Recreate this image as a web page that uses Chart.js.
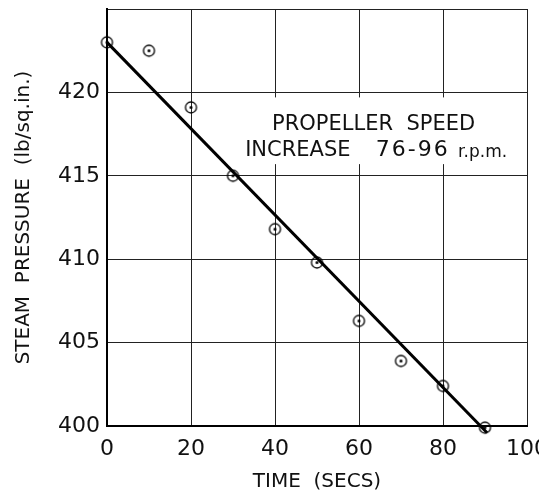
<!DOCTYPE html>
<html>
<head>
<meta charset="utf-8">
<script src="https://cdn.jsdelivr.net/npm/chart.js@4/dist/chart.umd.min.js"></script>
<style>
html,body{margin:0;padding:0;background:#fff;overflow:hidden;width:539px;height:499px;}
canvas{display:block;}
</style>
</head>
<body>
<canvas id="c" width="560" height="499"></canvas>
<script>
// Observed readings
const times = [0, 10, 20, 30, 40, 50, 60, 70, 80, 90];
const pressures = [423.0, 422.5, 419.1, 415.0, 411.8, 409.8, 406.3, 403.9, 402.4, 399.9];
// Fitted straight line
const fitTimes = [0, 90.5];
const fitPressures = [423.0, 399.6];
// Axes
const xTicks = [0, 20, 40, 60, 80, 100];
const yTicks = [400, 405, 410, 415, 420];
const annotationLine1 = 'PROPELLER  SPEED';
const annotationWord = 'INCREASE';
const annotationRange = '76-96';
const annotationUnit = 'r.p.m.';

const FONT = 'DejaVu Sans';

// circle-with-dot marker
const mk = document.createElement('canvas');
mk.width = 15; mk.height = 15;
(function(){
  const g = mk.getContext('2d');
  g.strokeStyle = '#000'; g.lineWidth = 1.3;
  g.beginPath(); g.arc(7.5, 7.5, 5.5, 0, Math.PI*2); g.stroke();
  g.fillStyle = '#000';
  g.beginPath(); g.arc(7.5, 7.5, 1.5, 0, Math.PI*2); g.fill();
})();

const annotationPlugin = {
  id: 'annot',
  beforeDatasetsDraw(chart) {
    const {ctx, scales:{x, y}} = chart;
    ctx.save();
    // white box hiding the grid behind the note
    const bx1 = x.getPixelForValue(31.7), bx2 = x.getPixelForValue(96);
    const by1 = y.getPixelForValue(419.7), by2 = y.getPixelForValue(415.7);
    ctx.fillStyle = '#fff';
    ctx.fillRect(bx1, by1, bx2 - bx1, by2 - by1);
    ctx.fillStyle = '#111';
    ctx.textBaseline = 'middle';
    ctx.textAlign = 'left';
    ctx.font = '21px "' + FONT + '"';
    ctx.fillText(annotationLine1, x.getPixelForValue(39.3), y.getPixelForValue(418.1));
    const l2y = y.getPixelForValue(416.5);
    ctx.fillText(annotationWord, x.getPixelForValue(32.9), l2y);
    ctx.font = '22px "' + FONT + '"';
    try { ctx.letterSpacing = '2px'; } catch (e) {}
    ctx.fillText(annotationRange, x.getPixelForValue(64.0), l2y);
    try { ctx.letterSpacing = '0px'; } catch (e) {}
    ctx.font = '17px "' + FONT + '"';
    ctx.fillText(annotationUnit, x.getPixelForValue(83.6), l2y + 2);
    ctx.restore();
  }
};

new Chart(document.getElementById('c'), {
  type: 'scatter',
  data: {
    datasets: [
      {
        type: 'line',
        data: fitTimes.map((t, i) => ({x: t, y: fitPressures[i]})),
        borderColor: '#000',
        borderWidth: 3,
        pointRadius: 0,
        fill: false,
        clip: false,
        order: 2
      },
      {
        data: times.map((t, i) => ({x: t, y: pressures[i]})),
        pointStyle: mk,
        pointRadius: 6,
        clip: false,
        order: 1
      }
    ]
  },
  options: {
    responsive: false,
    animation: false,
    events: [],
    layout: {padding: {left: 0, top: 9, right: 33, bottom: 0}},
    plugins: {legend: {display: false}, tooltip: {enabled: false}},
    scales: {
      x: {
        type: 'linear',
        min: 0, max: 100,
        afterBuildTicks(s) { s.ticks = xTicks.map(v => ({value: v})); },
        afterFit(s) { s.height = 73; s.paddingLeft = 0; s.paddingRight = 0; },
        ticks: {
          color: '#111', padding: 10, maxRotation: 0, autoSkip: false,
          font: {family: FONT, size: 22}
        },
        grid: {color: '#222', lineWidth: 1, drawTicks: false},
        border: {color: '#000', width: 2},
        title: {
          display: true, text: 'TIME  (SECS)', color: '#111',
          font: {family: FONT, size: 20}, padding: {top: 0, bottom: 5}
        }
      },
      y: {
        type: 'linear',
        min: 400, max: 425,
        afterBuildTicks(s) { s.ticks = yTicks.concat([425]).map(v => ({value: v})); },
        afterFit(s) { s.width = 107; s.paddingTop = 0; s.paddingBottom = 0; },
        ticks: {
          color: '#111', padding: 7,
          font: {family: FONT, size: 22},
          callback: v => (yTicks.includes(v) ? String(v) : '')
        },
        grid: {color: '#222', lineWidth: 1, drawTicks: false},
        border: {color: '#000', width: 2},
        title: {
          display: true, text: 'STEAM  PRESSURE  (lb/sq.in.)', color: '#111',
          font: {family: FONT, size: 20}, padding: {top: 12, bottom: 0}
        }
      }
    }
  },
  plugins: [annotationPlugin]
});
</script>
</body>
</html>
